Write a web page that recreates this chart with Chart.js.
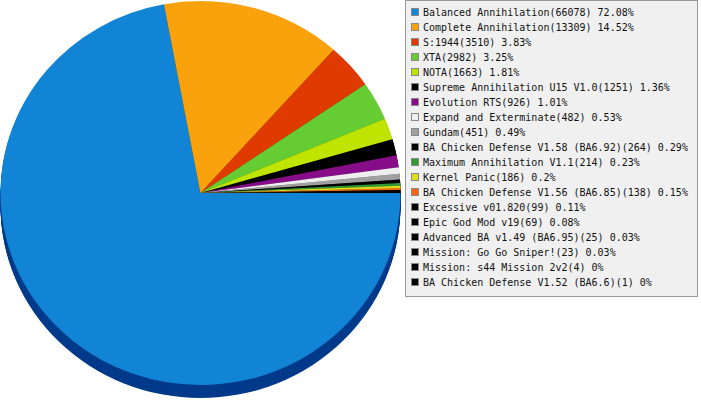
<!DOCTYPE html>
<html>
<head>
<meta charset="utf-8">
<script src="https://cdn.jsdelivr.net/npm/chart.js@4.4.1/dist/chart.umd.min.js"></script>
<style>
  html, body { margin: 0; padding: 0; background: #fff; }
  #wrap { position: relative; width: 701px; height: 400px; overflow: hidden; }
  #pie { position: absolute; left: 0; top: 0; }
  #legend {
    position: absolute; left: 405px; top: 0; width: 293px; height: 297px;
    background: #f0f0f0; border: 1px solid #999;
    font-family: "DejaVu Sans Mono", monospace; font-size: 10px; color: #111;
    padding-top: 4px; box-sizing: border-box;
  }
  .row { height: 15px; line-height: 15px; white-space: nowrap; position: relative; padding-left: 17px; }
  .box { position: absolute; left: 5px; top: 3px; width: 6px; height: 6px; border: 1px solid #888; }
</style>
</head>
<body>
<div id="wrap">
  <canvas id="pie" width="401" height="400"></canvas>
  <div id="legend"></div>
</div>
<script>
// data
const mods = [
  'Balanced Annihilation', 'Complete Annihilation', 'S:1944', 'XTA', 'NOTA',
  'Supreme Annihilation U15 V1.0', 'Evolution RTS', 'Expand and Exterminate', 'Gundam',
  'BA Chicken Defense V1.58 (BA6.92)', 'Maximum Annihilation V1.1', 'Kernel Panic',
  'BA Chicken Defense V1.56 (BA6.85)', 'Excessive v01.820', 'Epic God Mod v19',
  'Advanced BA v1.49 (BA6.95)', 'Mission: Go Go Sniper!', 'Mission: s44 Mission 2v2',
  'BA Chicken Defense V1.52 (BA6.6)'
];
const games = [66078, 13309, 3510, 2982, 1663, 1251, 926, 482, 451, 264, 214, 186, 138, 99, 69, 25, 23, 4, 1];
const colors = [
  '#1184d6', '#f9a20b', '#df3a00', '#66cc33', '#bee400', '#000000', '#870c87', '#eeeeee',
  '#a0a0a0', '#000000', '#339933', '#dddd22', '#ff6611', '#000000', '#000000', '#000000',
  '#000000', '#000000', '#000000'
];
const sideColors = [
  '#003a8a', '#8a5500', '#7a1e00', '#2f6a14', '#657800', '#000000', '#450445', '#8a8a8a',
  '#555555', '#000000', '#174d17', '#77770e', '#8a3305', '#000000', '#000000', '#000000',
  '#000000', '#000000', '#000000'
];

const total = games.reduce((a, b) => a + b, 0);
const pct = v => Math.round(v / total * 10000) / 100;

// html legend
const legend = document.getElementById('legend');
mods.forEach((m, i) => {
  const row = document.createElement('div');
  row.className = 'row';
  const box = document.createElement('span');
  box.className = 'box';
  box.style.background = colors[i];
  row.appendChild(box);
  row.appendChild(document.createTextNode(`${m}(${games[i]}) ${pct(games[i])}%`));
  legend.appendChild(row);
});

// squashed pie with a dark side, like the old 3d pies
const DEPTH = 13;
const SQUASH = 0.96;
const LIFT = 7;

function squash(ctx, arc) {
  ctx.translate(0, arc.y - LIFT);
  ctx.scale(1, SQUASH);
  ctx.translate(0, -arc.y);
}

const pie3d = {
  id: 'pie3d',
  beforeDatasetsDraw(chart) {
    const ctx = chart.ctx;
    const arcs = chart.getDatasetMeta(0).data;
    ctx.save();
    squash(ctx, arcs[0]);
    for (let d = DEPTH; d >= 1; d--) {
      arcs.forEach((arc, i) => {
        const y = arc.y + d / SQUASH;
        ctx.beginPath();
        ctx.moveTo(arc.x, y);
        ctx.arc(arc.x, y, arc.outerRadius, arc.startAngle, arc.endAngle);
        ctx.closePath();
        ctx.fillStyle = sideColors[i];
        ctx.fill();
      });
    }
    ctx.restore();
    ctx.save();
    squash(ctx, arcs[0]);
  },
  afterDatasetsDraw(chart) {
    chart.ctx.restore();
  }
};

new Chart(document.getElementById('pie'), {
  type: 'pie',
  data: {
    labels: mods,
    datasets: [{
      data: games,
      backgroundColor: colors,
      borderWidth: 0
    }]
  },
  options: {
    responsive: false,
    animation: false,
    events: [],
    rotation: 90,
    layout: { padding: 0 },
    plugins: {
      legend: { display: false },
      tooltip: { enabled: false }
    }
  },
  plugins: [pie3d]
});
</script>
</body>
</html>
